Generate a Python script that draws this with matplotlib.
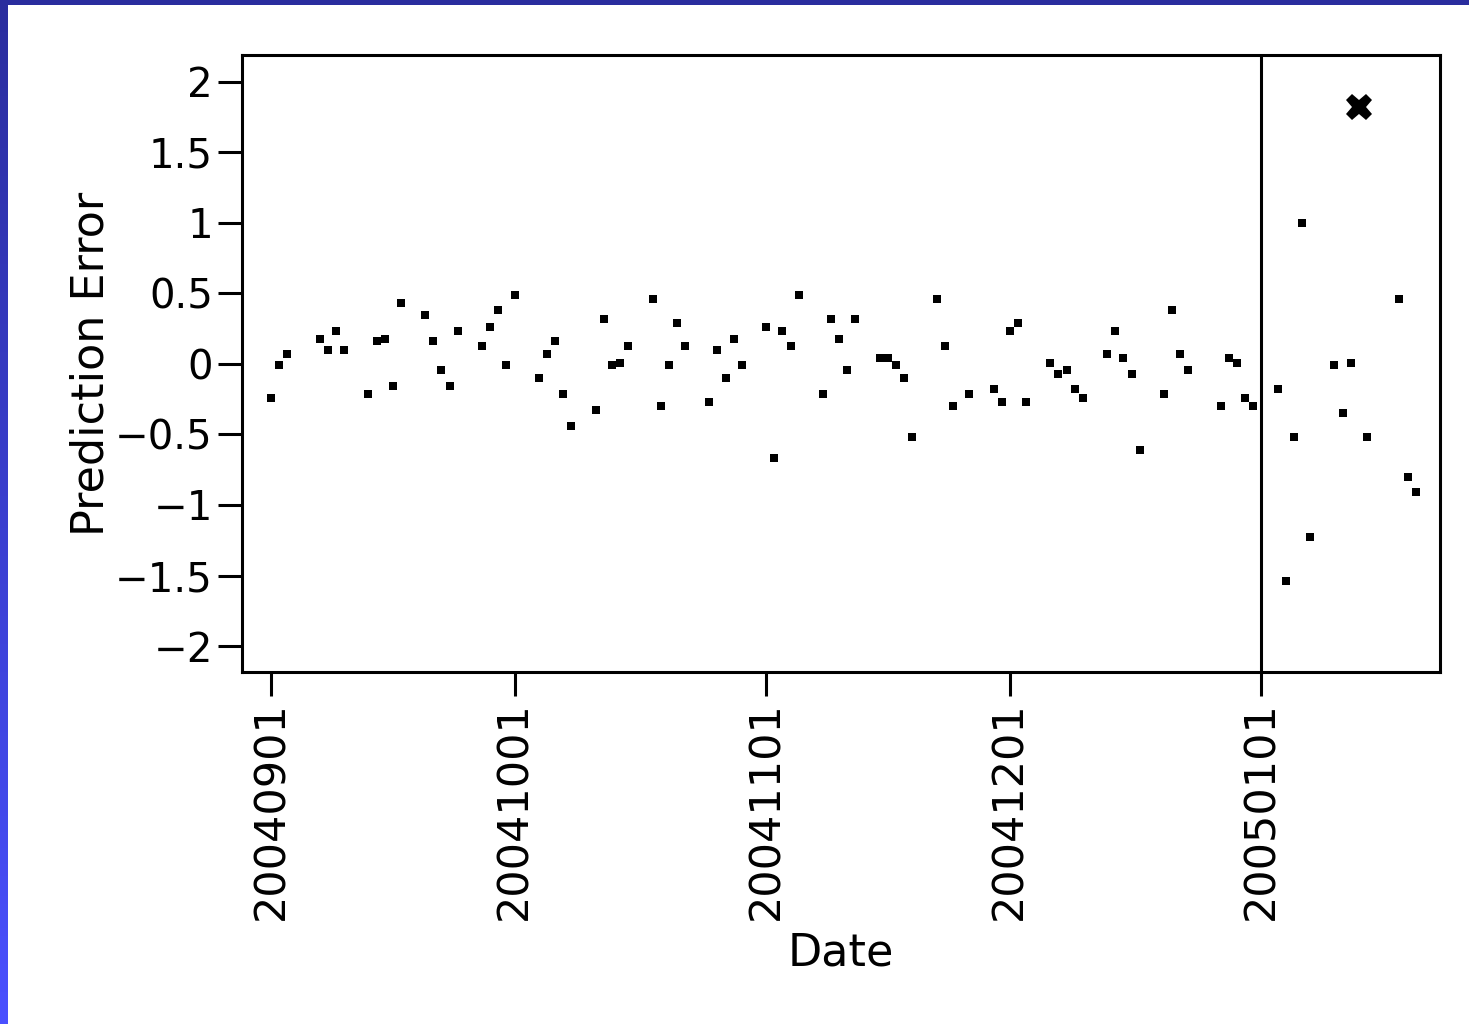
import matplotlib
matplotlib.use("Agg")
import matplotlib.pyplot as plt
import matplotlib.dates as mdates
import numpy as np
import pandas as pd
from matplotlib.ticker import FuncFormatter, FixedLocator
from matplotlib.colors import LinearSegmentedColormap

# ---- data ----
dates = [
    "2004-09-01", "2004-09-02", "2004-09-03", "2004-09-07", "2004-09-08", "2004-09-09", "2004-09-10",
    "2004-09-13", "2004-09-14", "2004-09-15", "2004-09-16", "2004-09-17",
    "2004-09-20", "2004-09-21", "2004-09-22", "2004-09-23", "2004-09-24",
    "2004-09-27", "2004-09-28", "2004-09-29", "2004-09-30", "2004-10-01",
    "2004-10-04", "2004-10-05", "2004-10-06", "2004-10-07", "2004-10-08",
    "2004-10-11", "2004-10-12", "2004-10-13", "2004-10-14", "2004-10-15",
    "2004-10-18", "2004-10-19", "2004-10-20", "2004-10-21", "2004-10-22",
    "2004-10-25", "2004-10-26", "2004-10-27", "2004-10-28", "2004-10-29",
    "2004-11-01", "2004-11-02", "2004-11-03", "2004-11-04", "2004-11-05",
    "2004-11-08", "2004-11-09", "2004-11-10", "2004-11-11", "2004-11-12",
    "2004-11-15", "2004-11-16", "2004-11-17", "2004-11-18", "2004-11-19",
    "2004-11-22", "2004-11-23", "2004-11-24", "2004-11-26",
    "2004-11-29", "2004-11-30", "2004-12-01", "2004-12-02", "2004-12-03",
    "2004-12-06", "2004-12-07", "2004-12-08", "2004-12-09", "2004-12-10",
    "2004-12-13", "2004-12-14", "2004-12-15", "2004-12-16", "2004-12-17",
    "2004-12-20", "2004-12-21", "2004-12-22", "2004-12-23",
    "2004-12-27", "2004-12-28", "2004-12-29", "2004-12-30", "2004-12-31",
    "2005-01-03", "2005-01-04", "2005-01-05", "2005-01-06", "2005-01-07",
    "2005-01-10", "2005-01-11", "2005-01-12", "2005-01-14",
    "2005-01-18", "2005-01-19", "2005-01-20",
]
errors = [
    -0.24, -0.01, 0.07, 0.18, 0.10, 0.23, 0.10,
    -0.21, 0.16, 0.18, -0.16, 0.43,
    0.35, 0.16, -0.04, -0.16, 0.23,
    0.13, 0.26, 0.38, -0.01, 0.49,
    -0.10, 0.07, 0.16, -0.21, -0.44,
    -0.33, 0.32, -0.01, 0.01, 0.13,
    0.46, -0.30, -0.01, 0.29, 0.13,
    -0.27, 0.10, -0.10, 0.18, -0.01,
    0.26, -0.67, 0.23, 0.13, 0.49,
    -0.21, 0.32, 0.18, -0.04, 0.32,
    0.04, 0.04, -0.01, -0.10, -0.52,
    0.46, 0.13, -0.30, -0.21,
    -0.18, -0.27, 0.23, 0.29, -0.27,
    0.01, -0.07, -0.04, -0.18, -0.24,
    0.07, 0.23, 0.04, -0.07, -0.61,
    -0.21, 0.38, 0.07, -0.04,
    -0.30, 0.04, 0.01, -0.24, -0.30,
    -0.18, -1.54, -0.52, 1.00, -1.23,
    -0.01, -0.35, 0.01, -0.52,
    0.46, -0.80, -0.91,
]
highlight_date = ["2005-01-13"]
highlight_error = [1.82]
split_date = "2005-01-01"
tick_dates = ["2004-09-01", "2004-10-01", "2004-11-01", "2004-12-01", "2005-01-01"]
y_ticks = [2, 1.5, 1, 0.5, 0, -0.5, -1, -1.5, -2]

# ---- figure ----
W, H = 1469, 1024
fig = plt.figure(figsize=(W / 100, H / 100), dpi=100)
fig.patch.set_facecolor("white")

# blue frame: gradient left strip and dark top strip
bax = fig.add_axes([0, 0, 8 / W, 1])
grad = np.linspace(0, 1, 256).reshape(-1, 1)
cm = LinearSegmentedColormap.from_list("b", ["#2a2d9e", "#4a50ff"])
bax.imshow(grad, aspect="auto", cmap=cm, extent=[0, 1, 1, 0])
bax.set_axis_off()
tax = fig.add_axes([0, 1 - 5 / H, 1, 5 / H])
tax.set_facecolor("#2a2d9e")
tax.set_xticks([]); tax.set_yticks([])
for s in tax.spines.values():
    s.set_visible(False)

L, R, T, B = 242, 1440, 55, 672
ax = fig.add_axes([L / W, 1 - B / H, (R - L) / W, (B - T) / H])

x = mdates.date2num(pd.to_datetime(dates))
ax.plot(x, errors, linestyle="none", marker="s", markersize=5.8, color="black", markeredgewidth=0)
xh = mdates.date2num(pd.to_datetime(highlight_date))
ax.plot(xh, highlight_error, linestyle="none", marker="X", markersize=19, color="black", markeredgewidth=0)

xs = mdates.date2num(pd.to_datetime(split_date))
ax.axvline(xs, color="black", linewidth=2.2)

x0 = mdates.date2num(pd.Timestamp("2004-09-01"))
ax.set_xlim(x0 - 3.57, x0 + 144.0)
ax.set_ylim(-2.184, 2.19)

ax.xaxis.set_major_locator(FixedLocator(mdates.date2num(pd.to_datetime(tick_dates))))
ax.xaxis.set_major_formatter(mdates.DateFormatter("%Y%m%d"))
ax.set_yticks(y_ticks)
ax.yaxis.set_major_formatter(FuncFormatter(lambda v, p: ("%g" % v).replace("-", "\u2212")))

for s in ax.spines.values():
    s.set_linewidth(2.2)
ax.tick_params(axis="both", direction="out", length=17, width=2.2, pad=4)
ax.tick_params(axis="y", labelsize=29)
ax.tick_params(axis="x", labelsize=31)
for lab in ax.get_xticklabels():
    lab.set_rotation(90)

ax.set_xlabel("Date", fontsize=32, labelpad=8)
ax.set_ylabel("Prediction Error", fontsize=32, labelpad=2)

fig.savefig("out.png", dpi=100)
